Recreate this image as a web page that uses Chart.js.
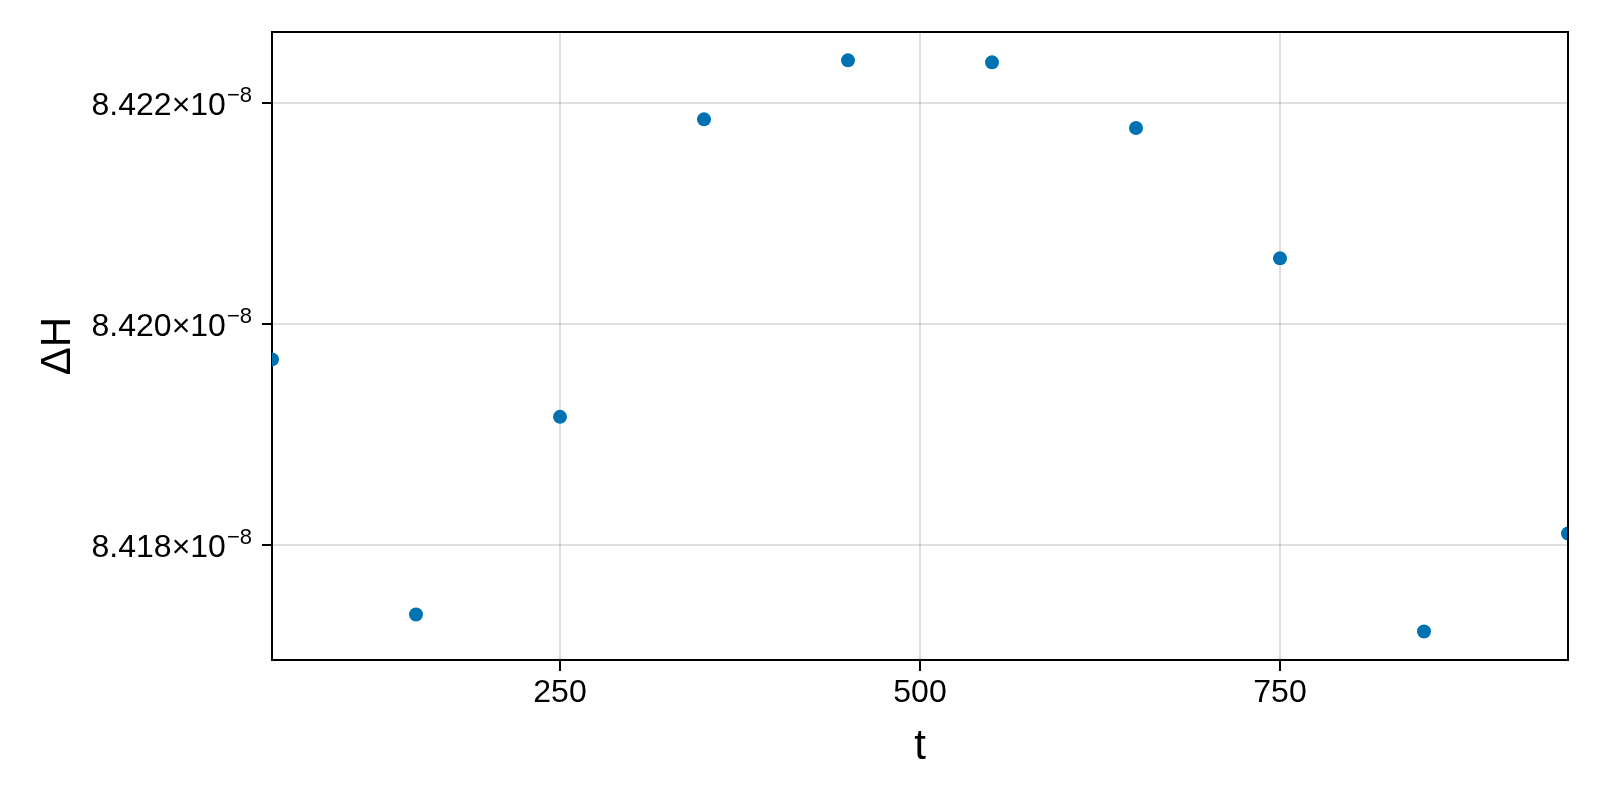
<!DOCTYPE html>
<html>
<head>
<meta charset="utf-8">
<style>
  html, body { margin: 0; padding: 0; background: #fff; }
  #wrap { width: 1600px; height: 800px; }
</style>
<script src="https://cdn.jsdelivr.net/npm/chart.js@4/dist/chart.umd.min.js"></script>
</head>
<body>
<div id="wrap"><canvas id="myChart" width="1600" height="800"></canvas></div>
<script>
// time steps and energy drift
var tValues = [50, 150, 250, 350, 450, 550, 650, 750, 850, 950];
var dH = [8.419681e-8, 8.417376e-8, 8.419162e-8, 8.421850e-8, 8.422383e-8,
          8.422365e-8, 8.421771e-8, 8.420594e-8, 8.417223e-8, 8.418108e-8];
var xTicks = [250, 500, 750];
var yTicks = [8.418e-8, 8.420e-8, 8.422e-8];
var yTickText = ['8.418×10', '8.420×10', '8.422×10'];
var yTickExp = '−8';

var points = tValues.map(function (t, i) { return { x: t, y: dH[i] }; });

var font = "'Liberation Sans', Arial, Helvetica, sans-serif";

// frame on top / right, and y tick labels with a real superscript
var framePlugin = {
  id: 'frame',
  afterDraw: function (chart) {
    var a = chart.chartArea, c = chart.ctx;
    c.save();
    c.strokeStyle = '#000';
    c.lineWidth = 2;
    c.beginPath();
    c.moveTo(a.left, a.top);
    c.lineTo(a.right, a.top);
    c.lineTo(a.right, a.bottom);
    c.stroke();

    var ys = chart.scales.y;
    var right = ys.right - 10 - 10;
    c.fillStyle = '#000';
    c.textAlign = 'right';
    c.textBaseline = 'alphabetic';
    yTicks.forEach(function (v, i) {
      var py = ys.getPixelForValue(v);
      c.font = '22px ' + font;
      var w = c.measureText(yTickExp).width;
      c.fillText(yTickExp, right, py - 1);
      c.font = '32px ' + font;
      c.fillText(yTickText[i], right - w - 1, py + 12);
    });
    c.restore();
  }
};

var ctx = document.getElementById('myChart').getContext('2d');
var chart = new Chart(ctx, {
  type: 'scatter',
  data: {
    datasets: [{
      label: 'ΔH',
      data: points,
      backgroundColor: '#0072B2',
      borderColor: '#0072B2',
      borderWidth: 0,
      pointRadius: 7,
      pointHoverRadius: 7
    }]
  },
  plugins: [framePlugin],
  options: {
    responsive: false,
    devicePixelRatio: 1,
    animation: false,
    layout: { padding: { top: 32, right: 32, left: 0, bottom: 0 } },
    plugins: {
      legend: { display: false },
      tooltip: { enabled: false }
    },
    scales: {
      x: {
        type: 'linear',
        min: 50,
        max: 950,
        afterBuildTicks: function (s) { s.ticks = xTicks.map(function (v) { return { value: v }; }); },
        afterFit: function (s) { s.height = 140; },
        border: { color: '#000', width: 2 },
        grid: {
          color: 'rgba(0,0,0,0.12)',
          lineWidth: 2,
          tickColor: '#000',
          tickWidth: 2,
          tickLength: 11
        },
        ticks: {
          color: '#000',
          font: { family: font, size: 32 },
          padding: 3,
          maxRotation: 0
        },
        title: {
          display: true,
          text: 't',
          color: '#000',
          font: { family: font, size: 42 },
          padding: { top: 0, bottom: 27 }
        }
      },
      y: {
        type: 'linear',
        min: 8.416965e-8,
        max: 8.422639e-8,
        afterBuildTicks: function (s) { s.ticks = yTicks.map(function (v) { return { value: v }; }); },
        afterFit: function (s) { s.width = 272; },
        border: { color: '#000', width: 2 },
        grid: {
          color: 'rgba(0,0,0,0.12)',
          lineWidth: 2,
          tickColor: '#000',
          tickWidth: 2,
          tickLength: 10
        },
        ticks: { display: false },
        title: {
          display: true,
          text: 'ΔH',
          color: '#000',
          font: { family: font, size: 42 },
          padding: { top: 33, bottom: 0 }
        }
      }
    }
  }
});
</script>
</body>
</html>
